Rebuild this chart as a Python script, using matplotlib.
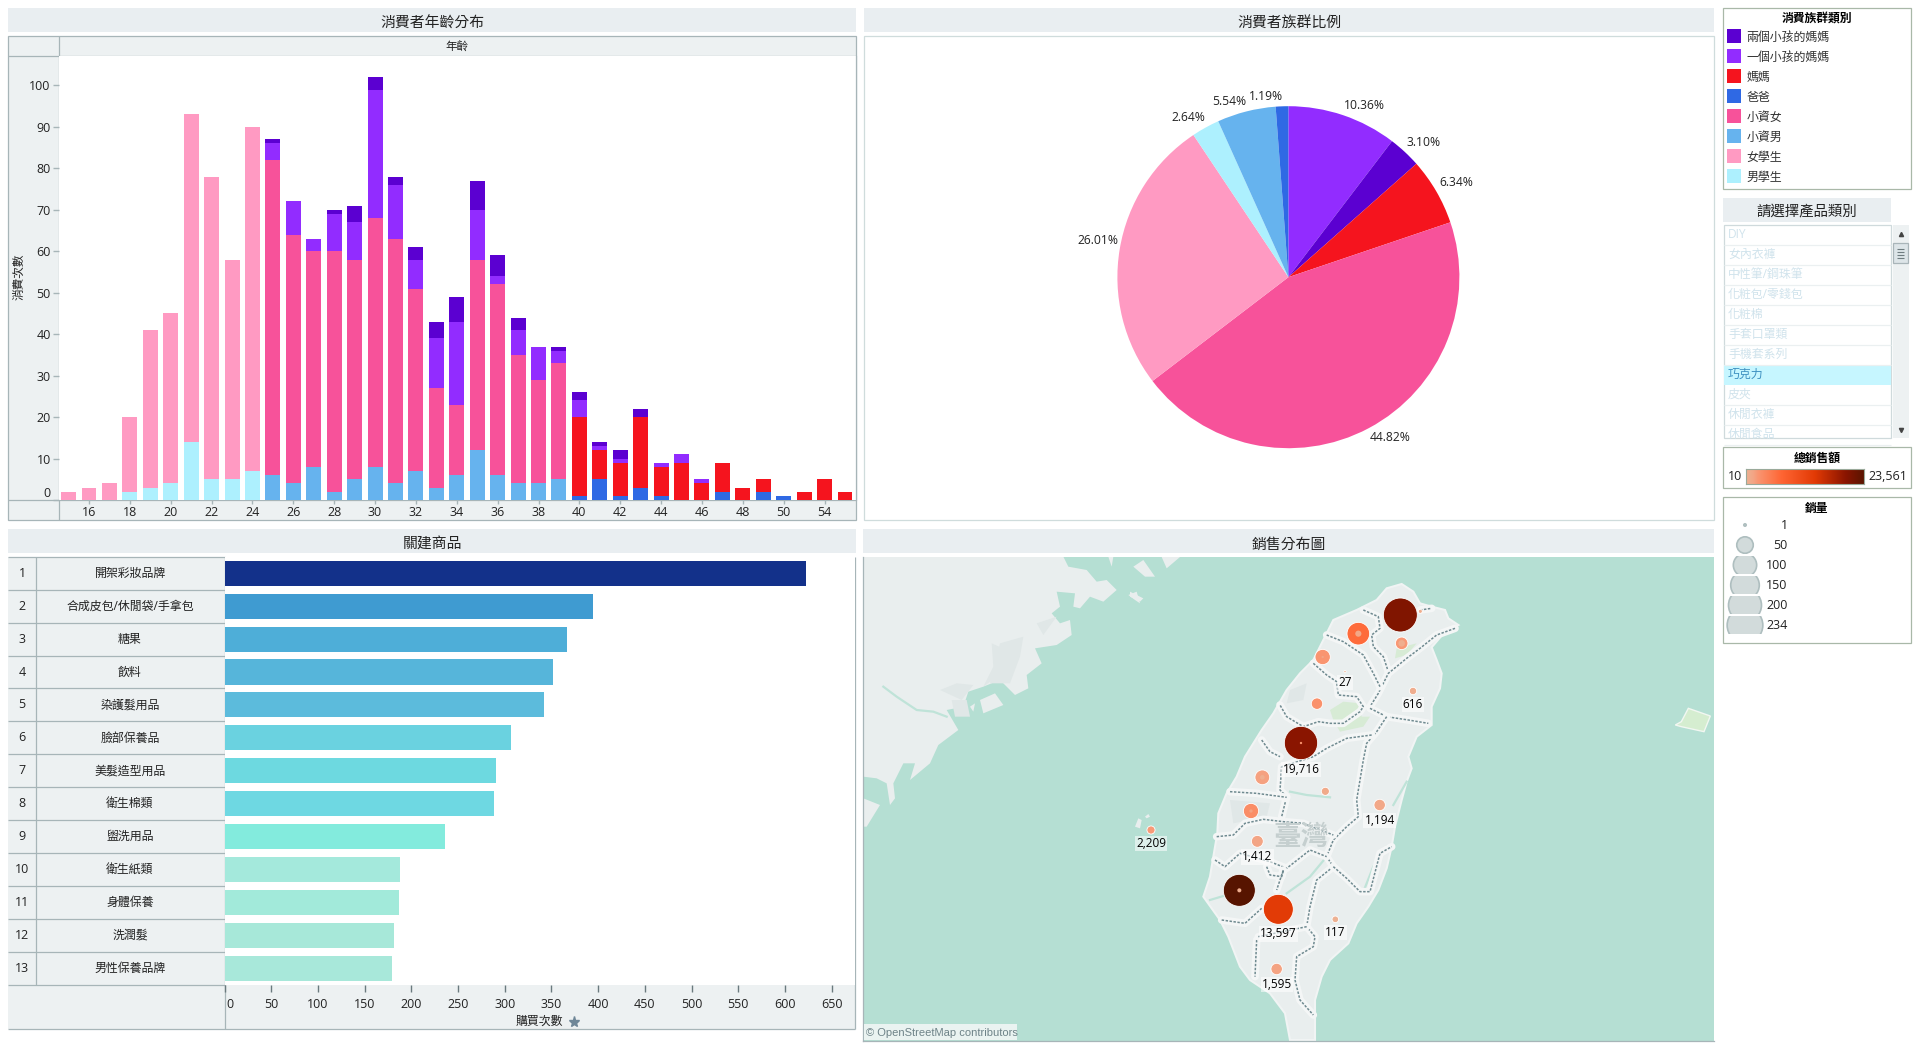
import numpy as np
import matplotlib
matplotlib.use('Agg')
import matplotlib.pyplot as plt
from matplotlib.colors import LinearSegmentedColormap, Normalize
from matplotlib.patches import Rectangle, Circle, Polygon
from matplotlib.transforms import ScaledTranslation

plt.rcParams['font.family'] = ['Open Sans', 'Noto Sans CJK TC', 'DejaVu Sans']

# age chart
ages = [str(a) for a in range(15, 51)] + ['53', '54', '55']
male_student = [0, 0, 0, 2, 3, 4, 14, 5, 5, 7] + [0] * 29
female_student = [2, 3, 4, 18, 38, 41, 79, 73, 53, 83] + [0] * 29
young_male = [0] * 10 + [6, 4, 8, 2, 5, 8, 4, 7, 3, 6, 12, 6, 4, 4, 5] + [0] * 14
young_female = [0] * 10 + [76, 60, 52, 58, 53, 60, 59, 44, 24, 17, 46, 46, 31, 25, 28] + [0] * 14
dad = [0] * 25 + [1, 5, 1, 3, 1, 0, 0, 2, 0, 2, 1, 0, 0, 0]
mom = [0] * 25 + [19, 7, 8, 17, 7, 9, 4, 7, 3, 3, 0, 2, 5, 2]
mom_one = [0] * 10 + [4, 8, 3, 9, 9, 31, 13, 7, 12, 20, 12, 2, 6, 8, 3] + [4, 1, 1, 0, 1, 2, 1, 0, 0, 0, 0, 0, 0, 0]
mom_two = [0] * 10 + [1, 0, 0, 1, 4, 3, 2, 3, 4, 6, 7, 5, 3, 0, 1] + [2, 1, 2, 2, 0, 0, 0, 0, 0, 0, 0, 0, 0, 0]
age_ticks = ['16', '18', '20', '22', '24', '26', '28', '30', '32', '34', '36', '38', '40', '42', '44', '46', '48', '50', '54']

# pie
pie_values = [10.36, 3.10, 6.34, 44.82, 26.01, 2.64, 5.54, 1.19]

# related products
products = ['開架彩妝品牌', '合成皮包/休閒袋/手拿包', '糖果', '飲料', '染護髮用品', '臉部保養品', '美髮造型用品',
            '衛生棉類', '盥洗用品', '衛生紙類', '身體保養', '洗潤髮', '男性保養品牌']
product_counts = [623, 394, 367, 352, 342, 307, 291, 289, 236, 188, 187, 181, 179]

# legend and filter
groups = ['兩個小孩的媽媽', '一個小孩的媽媽', '媽媽', '爸爸', '小資女', '小資男', '女學生', '男學生']
categories = ['DIY', '女內衣褲', '中性筆/鋼珠筆', '化粧包/零錢包', '化粧棉', '手套口罩類', '手機套系列', '巧克力', '皮夾', '休閒衣褲', '休閒食品']
size_steps = [1, 50, 100, 150, 200, 234]

# map bubbles, in map units
city_x = [811, 685, 815, 871, 578, 645, 561, 849, 513, 397, 586, 363, 382, 328, 445, 440, 616, 749, 63]
city_y = [165, 221, 250, 154, 291, 335, 431, 393, 549, 652, 694, 753, 844, 991, 1048, 1227, 1078, 735, 810]
city_qty = [212, 94, 29, 3, 43, 1, 24, 10, 204, 40, 12, 43, 26, 188, 165, 24, 8, 24, 12]
city_sales = [20500, 6500, 2300, 500, 2500, 27, 2900, 616, 19716, 1700, 1000, 3300, 1412, 23561, 13597, 1595, 117, 1194, 2209]
inner_qty = [0, 7, 8, 0, 1, 0, 0, 0, 1, 4, 0, 2, 0, 3, 0, 0, 0, 0, 0]
inner_sales = [0, 1200, 500, 0, 1500, 0, 0, 0, 2800, 400, 0, 1600, 0, 600, 0, 0, 0, 0, 0]
map_labels = ['', '', '', '', '', '27', '', '616', '19,716', '', '', '', '1,412', '', '13,597', '1,595', '117', '1,194', '2,209']

# map backdrop outlines
taiwan_x = [815, 850, 870, 905, 945, 955, 985, 945, 905, 920, 935, 930, 905, 905, 860, 835, 845, 830, 815, 795, 785, 770, 745, 715, 680, 655, 600, 575, 555, 555, 480, 465, 420, 360, 330, 295, 270, 220, 240, 250, 262, 265, 290, 320, 345, 395, 430, 470, 510, 550, 585, 610, 680, 740, 770]
taiwan_y = [72, 95, 130, 140, 150, 175, 195, 215, 262, 300, 340, 385, 440, 495, 530, 590, 625, 665, 720, 800, 860, 925, 990, 1040, 1090, 1150, 1200, 1250, 1320, 1440, 1440, 1360, 1300, 1260, 1220, 1130, 1080, 1010, 950, 890, 820, 760, 700, 650, 590, 510, 460, 390, 340, 300, 230, 180, 150, 120, 85]
china_x = [-800, -200, -185, -130, -100, -70, -40, -80, -120, -150, -170, -165, -220, -210, -235, -210, -180, -175, -220, -285, -265, -310, -305, -345, -390, -440, -485, -500, -550, -515, -575, -600, -660, -645, -680, -710, -705, -720, -730, -760, -800]
china_y = [-10, -10, 20, 30, 65, 60, 90, 125, 110, 145, 140, 100, 95, 140, 160, 190, 180, 225, 255, 265, 310, 345, 385, 405, 360, 380, 395, 440, 450, 510, 555, 610, 660, 610, 610, 670, 715, 735, 670, 655, 650]
china2_x = [-800, -750, -790, -800]
china2_y = [715, 735, 800, 800]
small_islands = [
    [(-450, 420), (-405, 400), (-380, 435), (-440, 460)],
    [(-480, 440), (-465, 430), (-470, 455)],
    [(-65, -10), (-50, -10), (-55, 20)],
    [(-5, 105), (20, 95), (30, 130), (15, 120)],
    [(15, 800), (25, 775), (35, 780), (30, 805)],
    [(45, 770), (55, 762), (60, 770), (50, 775)],
    [(10, 20), (40, 0), (75, 50), (45, 50)],
    [(95, -9), (150, -9), (110, 25)],
    [(0, 95), (40, 115), (30, 125), (0, 110)],
]
land_patches = [
    [(-415, 250), (-370, 270), (-385, 340), (-440, 380), (-410, 320)],
    [(-520, 370), (-470, 375), (-505, 420), (-570, 390)],
    [(-535, 420), (-490, 420), (-480, 470), (-525, 470)],
    [(-390, 250), (-320, 230), (-330, 290), (-360, 370), (-420, 370)],
    [(-280, 190), (-220, 170), (-260, 225)],
    [(480, 390), (530, 370), (520, 420), (470, 430)],
    [(300, 720), (420, 730), (410, 770), (310, 790)],
]
rivers = [
    [(480, 695), (530, 705), (600, 712)],
    [(790, 735), (830, 665)],
    [(470, 1000), (540, 950), (590, 890)],
    [(700, 995), (730, 920), (770, 860)],
    [(240, 1020), (290, 1005)],
    [(-740, 380), (-700, 410), (-640, 450), (-590, 455), (-550, 470)],
]
county_lines = [
    [(700, 150), (745, 170), (750, 205), (725, 225), (730, 260), (760, 290), (775, 335)],
    [(870, 150), (905, 145)],
    [(975, 205), (920, 225), (870, 265), (830, 295), (775, 340), (745, 400), (720, 440)],
    [(590, 225), (640, 245), (700, 285), (730, 340), (750, 380)],
    [(550, 310), (590, 345), (620, 365), (625, 405), (680, 410), (700, 440), (690, 455), (640, 490), (600, 490), (565, 485), (520, 500), (470, 470), (450, 435)],
    [(720, 445), (770, 470), (835, 480), (895, 490)],
    [(770, 470), (740, 515), (710, 550), (700, 600), (680, 720), (685, 770), (650, 800), (610, 840), (590, 890), (610, 920)],
    [(725, 525), (650, 535), (590, 565), (550, 590), (455, 620), (450, 690), (470, 710), (455, 770)],
    [(395, 540), (420, 575), (450, 590)],
    [(300, 695), (380, 700), (470, 712)],
    [(260, 830), (310, 825), (345, 790), (400, 778), (460, 785), (520, 790), (610, 825)],
    [(255, 900), (285, 920), (330, 880), (420, 905), (470, 925), (540, 870), (590, 890)],
    [(610, 920), (560, 960), (540, 1040), (530, 1100), (555, 1130), (550, 1160), (500, 1190), (495, 1260), (510, 1320), (550, 1365)],
    [(410, 920), (420, 945), (455, 950), (460, 930), (440, 990)],
    [(275, 1080), (345, 1090), (395, 1045)],
    [(380, 1140), (375, 1250)],
    [(530, 1100), (385, 1130)],
    [(610, 920), (650, 955), (690, 995), (720, 995), (750, 880), (785, 860)],
]
park_x = [600, 640, 690, 695, 720, 700, 630, 610]
park_y = [450, 425, 430, 470, 470, 500, 515, 480]
park2_x = [800, 860, 830, 795]
park2_y = [265, 250, 285, 295]
orchid_x = [1675, 1741, 1722, 1654, 1636, 1654]
orchid_y = [445, 468, 515, 500, 495, 485]

colors = {'兩個小孩的媽媽': '#5B00D1', '一個小孩的媽媽': '#922CFF', '媽媽': '#F5141E', '爸爸': '#2F69E4',
          '小資女': '#F7529A', '小資男': '#66B3EE', '女學生': '#FF9AC2', '男學生': '#ADF0FE'}
band = '#E9EEF1'
gutter = '#EDF1F2'
line = '#A7B5B8'
box_line = '#A9B8A8'
text_c = '#222222'
W, H = 1920, 1046

fig = plt.figure(figsize=(19.2, 10.46), dpi=100)


def px_axes(x0, y0, x1, y1, **kw):
    return fig.add_axes([x0 / W, 1 - y1 / H, (x1 - x0) / W, (y1 - y0) / H], **kw)


bg = fig.add_axes([0, 0, 1, 1], zorder=0)
bg.set_xlim(0, W)
bg.set_ylim(H, 0)
bg.axis('off')


def rect(x0, y0, x1, y1, fc='none', ec='none', lw=0.9, **kw):
    r = Rectangle((x0, y0), x1 - x0, y1 - y0, facecolor=fc, edgecolor=ec, linewidth=lw, **kw)
    bg.add_patch(r)
    return r


def hline(y, x0, x1, c=line, lw=0.9):
    bg.plot([x0, x1], [y, y], color=c, lw=lw, solid_capstyle='butt')


def vline(x, y0, y1, c=line, lw=0.9):
    bg.plot([x, x], [y0, y1], color=c, lw=lw, solid_capstyle='butt')


def title_band(x0, y0, x1, y1, s, size=10.7, shift=4.5):
    rect(x0, y0, x1, y1, fc=band)
    bg.text((x0 + x1) / 2, (y0 + y1) / 2 + shift, s, ha='center', va='center', fontsize=size, color=text_c)


# ---- age chart
title_band(8, 8, 856, 32, '消費者年齡分布')
rect(8, 35.5, 856, 520, fc=gutter, ec=line)
hline(55.5, 8, 856)
hline(500, 8, 856)
vline(59, 35.5, 520)
bg.text(457, 46.5, '年齡', ha='center', va='center', fontsize=8.3, color=text_c)
bg.text(19, 277, '消費次數', ha='center', va='center', rotation=90, fontsize=8.4, color=text_c)

ax = px_axes(59, 55.5, 856, 500, zorder=1)
pos = np.arange(len(ages))
bottom = np.zeros(len(ages))
stack = [('男學生', male_student), ('女學生', female_student), ('小資男', young_male), ('小資女', young_female),
         ('爸爸', dad), ('媽媽', mom), ('一個小孩的媽媽', mom_one), ('兩個小孩的媽媽', mom_two)]
for name, vals in stack:
    ax.bar(pos, vals, bottom=bottom, width=0.73, color=colors[name])
    bottom += np.array(vals)
ax.set_xlim(-0.47, 38.54)
ax.set_ylim(0, 107.2)
ax.set_yticks(range(0, 101, 10))
ax.set_xticks([ages.index(a) for a in age_ticks])
ax.set_xticklabels(age_ticks)
ax.tick_params(axis='y', length=4, width=1, color=line, labelsize=9, pad=2, labelcolor=text_c)
ax.tick_params(axis='x', length=3, width=1, color=line, labelsize=9, pad=1, labelcolor=text_c)
ax.get_yticklabels()[0].set_va('bottom')
for s in ['top', 'left', 'bottom']:
    ax.spines[s].set_visible(False)
ax.spines['right'].set_color(line)
ax.spines['right'].set_linewidth(0.9)

# ---- pie
title_band(864, 8, 1714, 32, '消費者族群比例')
rect(864, 35.5, 1714, 520, fc='white', ec='#CFDCDC')
pie_ax = px_axes(1288.4 - 171, 277.2 - 171, 1288.4 + 171, 277.2 + 171, zorder=1)
pie_colors = [colors[g] for g in ['一個小孩的媽媽', '兩個小孩的媽媽', '媽媽', '小資女', '女學生', '男學生', '小資男', '爸爸']]
pie_ax.pie(pie_values, colors=pie_colors, startangle=90, counterclock=False, radius=1)
pie_ax.set_xlim(-1, 1)
pie_ax.set_ylim(-1, 1)
label_xy = [(1364, 105.8), (1424, 142.7), (1456, 182.6), (1390.4, 437.8), (1098, 240.7), (1188, 117.6), (1229.7, 101.4), (1266, 96.7)]
for v, (lx, ly) in zip(pie_values, label_xy):
    bg.text(lx, ly, f'{v:.2f}%', ha='center', va='center', fontsize=8.7, color=text_c, zorder=5)

# ---- related products
title_band(8, 529, 856, 553, '關建商品')
rect(8, 556.7, 224.5, 1029, fc=gutter)
rect(224.5, 985, 855, 1029, fc=gutter)
row_h = (985 - 556.7) / 13
for i, name in enumerate(products):
    yc = 556.7 + row_h * (i + 0.5)
    bg.text(22, yc, str(i + 1), ha='center', va='center', fontsize=9, color=text_c)
    bg.text(130, yc, name, ha='center', va='center', fontsize=8.6, color=text_c)
    hline(556.7 + row_h * i, 8, 224.5)
hline(985, 8, 224.5)
hline(1029, 8, 855)
vline(36.2, 556.7, 985)
vline(224.5, 556.7, 1029)
vline(855, 556.7, 1029)

bar_colors = ['#13318A', '#3F9BD1', '#4EAED8', '#56B5DA', '#5CBBDC', '#6AD2E0', '#6DD9E0', '#6ED8E2',
              '#83EBDD', '#A4E9DC', '#A2EADA', '#A7E8D9', '#A8E8DA']
hax = px_axes(224.5, 556.7, 855, 985, zorder=1)
hax.barh(range(13), product_counts, height=0.76, color=bar_colors)
hax.set_xlim(0, 675)
hax.set_ylim(12.5, -0.5)
hax.set_yticks([])
hax.set_xticks(range(0, 651, 50))
hax.tick_params(axis='x', length=5, width=1, color='#6A7A7E', labelsize=9, pad=4, labelcolor=text_c)
first = hax.get_xticklabels()[0]
first.set_ha('left')
first.set_transform(first.get_transform() + ScaledTranslation(2 / 100, 0, fig.dpi_scale_trans))
for s in hax.spines.values():
    s.set_visible(False)
bg.text(539, 1021.7, '購買次數', ha='center', va='center', fontsize=8.6, color=text_c)
bg.plot([574], [1021.5], marker='*', ms=8, color='#6F8798', zorder=5)

# ---- map
title_band(863, 529, 1714, 553, '銷售分布圖')
sales_cmap = LinearSegmentedColormap.from_list('sales', [(0, '#EDB293'), (0.06, '#F3A585'), (0.1, '#F99672'), (0.3, '#FF6533'),
                                                         (0.58, '#E23A05'), (0.84, '#8A1500'), (1, '#571400')])
sales_norm = Normalize(10, 23561)
land = '#E9EEEE'
mp = px_axes(863, 557, 1714, 1041, zorder=1)
mp.set_facecolor('#B5DFD3')
mp.set_xlim(-801, 1752)
mp.set_ylim(1443, -9)
mp.set_xticks([])
mp.set_yticks([])
for s in mp.spines.values():
    s.set_color(line)
    s.set_linewidth(0.9)
mp.spines['top'].set_visible(False)
mp.spines['right'].set_visible(False)
for xs, ys in [(china_x, china_y), (china2_x, china2_y)]:
    mp.add_patch(Polygon(list(zip(xs, ys)), closed=True, fc=land, ec='none'))
for pts in small_islands:
    mp.add_patch(Polygon(pts, closed=True, fc=land, ec='none'))
mp.add_patch(Polygon(list(zip(taiwan_x, taiwan_y)), closed=True, fc=land, ec='#F1F4F4', lw=1.5))
for pts in land_patches:
    mp.add_patch(Polygon(pts, closed=True, fc='#E0E7E7', ec='none'))
mp.add_patch(Polygon(list(zip(park_x, park_y)), closed=True, fc='#D7EBD5', ec='none'))
mp.add_patch(Polygon(list(zip(park2_x, park2_y)), closed=True, fc='#D7EBD5', ec='none'))
mp.add_patch(Polygon(list(zip(orchid_x, orchid_y)), closed=True, fc='#D5EDD0', ec='#F2F7F2', lw=1))
for seg in rivers:
    xs, ys = zip(*seg)
    mp.plot(xs, ys, color='#BFE3D8', lw=1.6)
for seg in county_lines:
    xs, ys = zip(*seg)
    mp.plot(xs, ys, color='#F4F6F6', lw=5.5, solid_capstyle='round')
    mp.plot(xs, ys, color='#6F8A90', lw=1.1, ls=(0, (1.6, 1)))
mp.text(515, 832, '臺灣', ha='center', va='center', fontsize=20, fontweight='bold', color='#C5CFCF')
for x, y, q, sale, iq, isale, lab in zip(city_x, city_y, city_qty, city_sales, inner_qty, inner_sales, map_labels):
    r = 3.5 * np.sqrt(q)
    mp.add_patch(Circle((x, y), r, fc=sales_cmap(sales_norm(sale)), ec='#FFFFFF', lw=0.6, zorder=4))
    if iq:
        mp.add_patch(Circle((x, y), 3.5 * np.sqrt(iq), fc=sales_cmap(sales_norm(isale)), ec='none', zorder=5))
    if lab:
        mp.text(x, y + r + 29, lab, ha='center', va='center', fontsize=8.5, color='black', zorder=6,
                bbox=dict(fc='white', ec='none', alpha=0.55, pad=0.8))
rect(863.5, 1024, 1016.7, 1040.4, fc='#EAF3F1', zorder=3)
mp.set_zorder(0.5)
bg.set_zorder(1)
bg.patch.set_visible(False)
bg.text(866, 1032.5, '© OpenStreetMap contributors', ha='left', va='center', fontsize=8,
        family=['Liberation Sans', 'DejaVu Sans'], color='#6E8388', zorder=4)

# ---- group legend
rect(1723.3, 8.3, 1910.7, 189.3, fc='white', ec=box_line)
bg.text(1817, 19, '消費族群類別', ha='center', va='center', fontsize=8.5, fontweight='bold', color='black')
for i, g in enumerate(groups):
    yc = 36 + 20 * i
    rect(1726.7, yc - 7, 1741, yc + 7, fc=colors[g])
    bg.text(1746.7, yc + 1, g, ha='left', va='center', fontsize=8.6, color='#333333')

# ---- category filter
title_band(1723, 198, 1891, 222, '請選擇產品類別', size=10.4, shift=3)
rect(1723.7, 225.3, 1891, 438, fc='white', ec='#CFDADC')
list_clip = Rectangle((1723.7, 225.3), 1891 - 1723.7, 438 - 225.3, transform=bg.transData)
for i, c in enumerate(categories):
    yc = 234.5 + 20 * i
    if c == '巧克力':
        rect(1724.3, yc - 10, 1890.5, yc + 10, fc='#C6F6FF')
    else:
        hline(yc + 10, 1724, 1890.5, c='#EBF0F1', lw=0.9)
    t = bg.text(1728, yc, c, ha='left', va='center', fontsize=8.6, color='#3F92C2' if c == '巧克力' else '#D0E3EC')
    t.set_clip_path(list_clip)
rect(1892.7, 225.3, 1908.7, 438, fc=gutter)
rect(1893.3, 243, 1907.7, 263, fc='#DDE5E8', ec='#A9B5B9', lw=0.9)
for gy in [249, 252, 255, 258]:
    hline(gy, 1897, 1904, c='#6F7C80', lw=0.8)
bg.plot([1900.7], [234], marker='^', ms=3, color='#444444')
bg.plot([1900.7], [430], marker='v', ms=3, color='#444444')

# ---- color legend
rect(1723.3, 447.3, 1910.7, 488.3, fc='white', ec=box_line)
bg.text(1817, 458, '總銷售額', ha='center', va='center', fontsize=8.5, fontweight='bold', color='black')
cb = px_axes(1745.7, 469.3, 1864.3, 484, zorder=2)
cb.imshow(np.linspace(0, 1, 256).reshape(1, -1), cmap=sales_cmap, aspect='auto')
cb.set_xticks([])
cb.set_yticks([])
for s in cb.spines.values():
    s.set_color('#9AA99A')
bg.text(1741.7, 477, '10', ha='right', va='center', fontsize=9, color=text_c)
bg.text(1868.7, 477, '23,561', ha='left', va='center', fontsize=9, color=text_c)

# ---- size legend
rect(1723.3, 497.3, 1910.7, 643.3, fc='white', ec=box_line)
bg.text(1817, 508, '銷量', ha='center', va='center', fontsize=8.5, fontweight='bold', color='black')
for i, q in enumerate(size_steps):
    yc = 525 + 20.05 * i
    c = Circle((1745, yc), 3.5 * np.sqrt(q) / 3, fc='#D2DBDB', ec='#AEBEBF', lw=1.2)
    bg.add_patch(c)
    c.set_clip_path(Rectangle((1725, yc - 9), 45, 18, transform=bg.transData))
    bg.text(1787.7, yc + 0.5, str(q), ha='right', va='center', fontsize=9, color=text_c)

fig.savefig('out.png', dpi=100, facecolor='white')
